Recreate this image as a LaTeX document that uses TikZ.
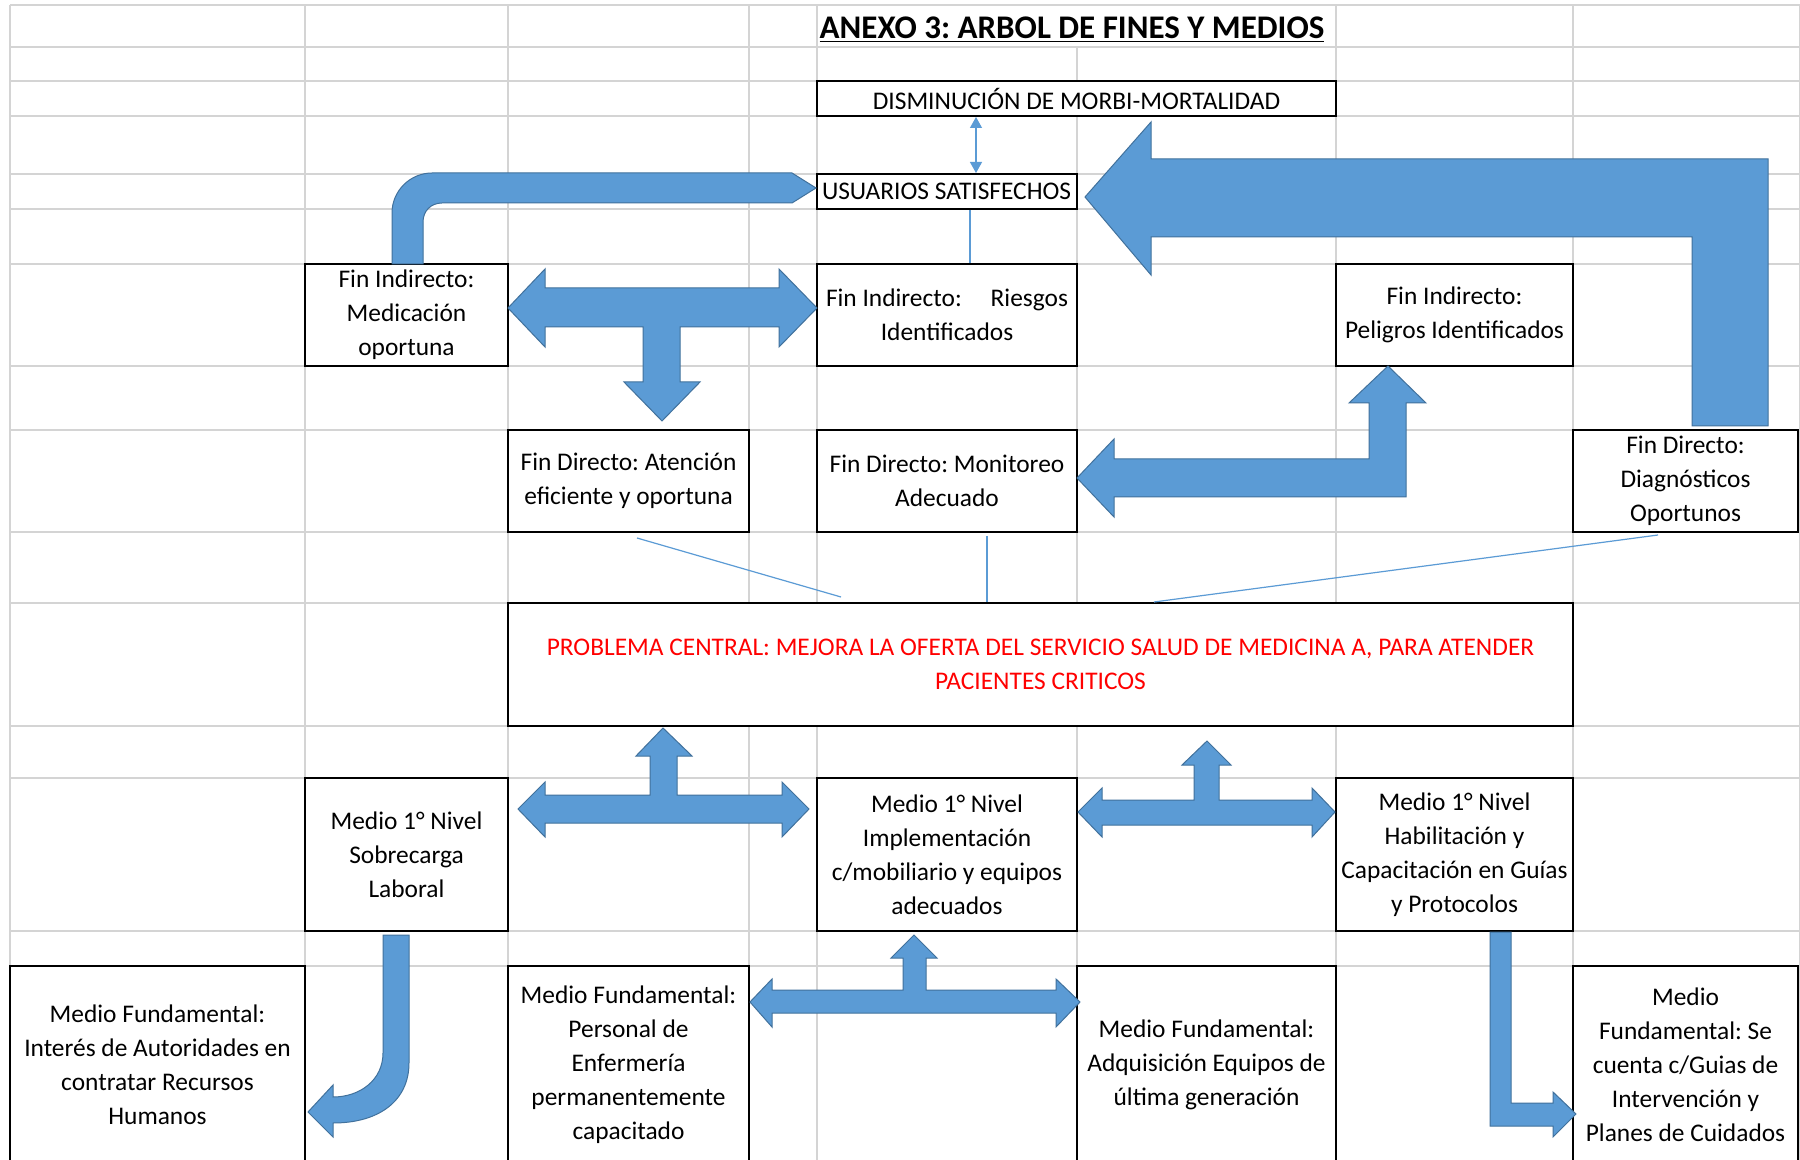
\documentclass[tikz,border=0pt]{standalone}
\usepackage{fontspec}
\setmainfont{Carlito}
\usetikzlibrary{arrows.meta}
\definecolor{arrowblue}{HTML}{5B9BD5}
\definecolor{arrowedge}{HTML}{41719C}
\definecolor{gridgray}{HTML}{D4D4D4}
\frenchspacing

\begin{document}
\begin{tikzpicture}[x=0.5pt, y=-0.5pt,
  gridline/.style={draw=gridgray, line width=0.9pt},
  box/.style={draw, line width=1pt, fill=white, align=center, inner sep=0pt,
    font=\fontsize{12.7}{17}\selectfont},
  blockarrow/.style={fill=arrowblue, draw=arrowedge, line width=0.5pt},
  link/.style={draw=arrowblue, line width=0.6pt}]

 \useasboundingbox (0,0) rectangle (1800,1160);
 \fill[white] (0,0) rectangle (1800,1160);

 % spreadsheet grid
 \foreach \r in {5,47,81,116,174,209,264,366,430,532,603,726,778,931,966}
   \draw[gridline] (10,\r) -- (1800,\r);
 \foreach \c in {10,305,508,749,817,1336,1573,1800}
   \draw[gridline] (\c,5) -- (\c,1160);
 \draw[gridline] (1077,47) -- (1077,1160);

 \node[font=\fontsize{16.5}{18}\selectfont\bfseries] (titulo) at (1072,30)
   {\underline{ANEXO 3: ARBOL DE FINES Y MEDIOS}};

 % fines
 \node[box, minimum width=259.5pt, minimum height=17.5pt] (dism) at (1076.5,98.5)
   {DISMINUCIÓN DE MORBI-MORTALIDAD};
 \node[box, minimum width=130pt, minimum height=17.5pt] (usuarios) at (947,191.5)
   {\makebox[125pt][l]{USUARIOS SATISFECHOS}};
 \node[box, minimum width=101.5pt, minimum height=51pt] (medic) at (406.5,315)
   {Fin Indirecto:\\Medicación\\oportuna};
 \node[box, minimum width=130pt, minimum height=51pt] (riesgos) at (947,315)
   {\makebox[121pt]{Fin Indirecto:\hfill Riesgos}\\Identificados};
 \node[box, minimum width=118.5pt, minimum height=51pt] (peligros) at (1454.5,315)
   {Fin Indirecto:\\Peligros Identificados};
 \node[box, minimum width=120.5pt, minimum height=51pt] (atencion) at (628.5,481)
   {Fin Directo: Atención\\eficiente y oportuna};
 \node[box, minimum width=130pt, minimum height=51pt] (monitoreo) at (947,481)
   {Fin Directo: Monitoreo\\Adecuado};
 \node[box, minimum width=112.5pt, minimum height=51pt] (diagnos) at (1685.5,481)
   {Fin Directo:\\Diagnósticos\\Oportunos};

 % problema central
 \node[box, text=red, minimum width=532.5pt, minimum height=61.5pt] (problema) at (1040.5,664.5)
   {PROBLEMA CENTRAL: MEJORA LA OFERTA DEL SERVICIO SALUD DE MEDICINA A, PARA ATENDER\\PACIENTES CRITICOS};

 % medios
 \node[box, minimum width=101.5pt, minimum height=76.5pt] (sobrecarga) at (406.5,854.5)
   {Medio 1° Nivel\\Sobrecarga\\Laboral};
 \node[box, minimum width=130pt, minimum height=76.5pt] (implem) at (947,854.5)
   {Medio 1° Nivel\\Implementación\\c/mobiliario y equipos\\adecuados};
 \node[box, minimum width=118.5pt, minimum height=76.5pt] (habilit) at (1454.5,854.5)
   {Medio 1° Nivel\\Habilitación y\\Capacitación en Guías\\y Protocolos};
 \node[box, minimum width=147.5pt, minimum height=99pt] (interes) at (157.5,1065)
   {Medio Fundamental:\\Interés de Autoridades en\\contratar Recursos\\Humanos};
 \node[box, minimum width=120.5pt, minimum height=99pt] (personal) at (628.5,1065)
   {Medio Fundamental:\\Personal de\\Enfermería\\permanentemente\\capacitado};
 \node[box, minimum width=129.5pt, minimum height=99pt] (adquis) at (1206.5,1065)
   {Medio Fundamental:\\Adquisición Equipos de\\última generación};
 \node[box, minimum width=112.5pt, minimum height=99pt] (guias) at (1685.5,1065)
   {Medio\\Fundamental: Se\\cuenta c/Guias de\\Intervención y\\Planes de Cuidados};

 % thin connectors
 \draw[link, {Triangle[length=5.5pt,width=6pt]}-{Triangle[length=5.5pt,width=6pt]}]
   ([xshift=-50.25pt]dism.south) -- ([xshift=14.5pt]usuarios.north);
 \draw[link] ([xshift=11.5pt]usuarios.south) -- ([xshift=11.5pt]riesgos.north);
 \draw[link] ([xshift=4.25pt,yshift=-2.5pt]atencion.south) -- ([xshift=-99.75pt,yshift=2.5pt]problema.north);
 \draw[link] ([xshift=20pt,yshift=-1.5pt]monitoreo.south) -- ([xshift=-26.75pt]problema.north);
 \draw[link] ([xshift=-13.75pt,yshift=-1pt]diagnos.south) -- ([xshift=56.75pt]problema.north);

 % block arrows
 \draw[blockarrow] (392,264) -- (392,213) .. controls (392,191) and (410,173) .. (432,173)
   -- (792,173) -- (816,188) -- (792,203) -- (442,203) .. controls (431,203) and (423,211) .. (423,222)
   -- (423,264) -- cycle; % medicacion -> usuarios
 \draw[blockarrow] (508,308) -- (545,269) -- (545,288) -- (779,288) -- (779,269) -- (817,308)
   -- (779,347) -- (779,327) -- (680,327) -- (680,382) -- (700,382) -- (662,421) -- (624,382)
   -- (643,382) -- (643,327) -- (545,327) -- (545,347) -- cycle;
 \draw[blockarrow] (1077,478) -- (1114,439) -- (1114,459) -- (1369,459) -- (1369,403) -- (1349,403)
   -- (1388,366) -- (1426,403) -- (1406,403) -- (1406,497) -- (1114,497) -- (1114,517) -- cycle;
 \draw[blockarrow] (1085,197) -- (1151,122) -- (1151,159) -- (1768,159) -- (1768,426) -- (1692,426)
   -- (1692,237) -- (1151,237) -- (1151,275) -- cycle; % diagnosticos -> usuarios
 \draw[blockarrow] (518,809) -- (545,782) -- (545,795) -- (650,795) -- (650,756) -- (636,756)
   -- (663,728) -- (692,756) -- (677,756) -- (677,795) -- (782,795) -- (782,782) -- (809,809)
   -- (782,837) -- (782,823) -- (545,823) -- (545,837) -- cycle;
 \draw[blockarrow] (1078,812) -- (1102,788) -- (1102,800) -- (1194,800) -- (1194,765) -- (1182,765)
   -- (1207,741) -- (1231,765) -- (1219,765) -- (1219,800) -- (1312,800) -- (1312,788) -- (1335,812)
   -- (1312,837) -- (1312,825) -- (1102,825) -- (1102,837) -- cycle;
 \draw[blockarrow] (750,1002) -- (772,979) -- (772,990) -- (903,990) -- (903,958) -- (891,958)
   -- (914,935) -- (937,958) -- (926,958) -- (926,990) -- (1056,990) -- (1056,979) -- (1080,1002)
   -- (1056,1027) -- (1056,1013) -- (772,1013) -- (772,1027) -- cycle;
 \draw[blockarrow] (383,935) -- (409,935) -- (409,1063) .. controls (409,1100) and (380,1123) .. (333,1123)
   -- (333,1137) -- (308,1112) -- (333,1085) -- (333,1097) .. controls (360,1097) and (383,1080) .. (383,1053)
   -- cycle; % sobrecarga -> interes
 \draw[blockarrow] (1490,932) -- (1511,932) -- (1511,1103) -- (1553,1103) -- (1553,1092) -- (1576,1114)
   -- (1553,1137) -- (1553,1126) -- (1490,1126) -- cycle;

\end{tikzpicture}
\end{document}
